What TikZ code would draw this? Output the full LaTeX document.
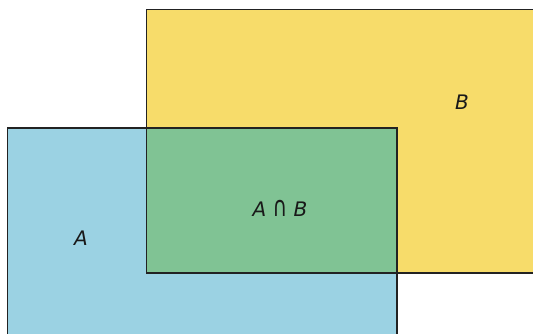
\documentclass[tikz,border=0pt]{standalone}
\usepackage{fontspec}
\usepackage{graphicx}
\setmainfont{DejaVu Sans}
\definecolor{setyellow}{HTML}{F7DC6A}
\definecolor{setblue}{HTML}{9BD2E3}
\definecolor{setgreen}{HTML}{80C394}
\definecolor{edge}{HTML}{222222}
\begin{document}
\begin{tikzpicture}[x=1pt,y=1pt,
  region/.style={draw=edge,line width=1.6pt},
  lbl/.style={font=\fontsize{20}{24}\selectfont\itshape,text=black!90,inner sep=0pt}]
\useasboundingbox (0,0) rectangle (533,333);
\clip (0,0) rectangle (533,333);
\filldraw[region,fill=setyellow] (146.5,323.5) rectangle (545,60);
\filldraw[region,fill=setblue] (7.5,205) rectangle (397,-10);
\filldraw[region,fill=setgreen] (146.5,205) rectangle (397,60);
\node[lbl] (b) at (462,231) {B};
\node[lbl] (a) at (81,95) {A};
\node[lbl] (ab) at (280,125) {A \scalebox{1}[1.4]{\upshape ∩} B};
\end{tikzpicture}
\end{document}
